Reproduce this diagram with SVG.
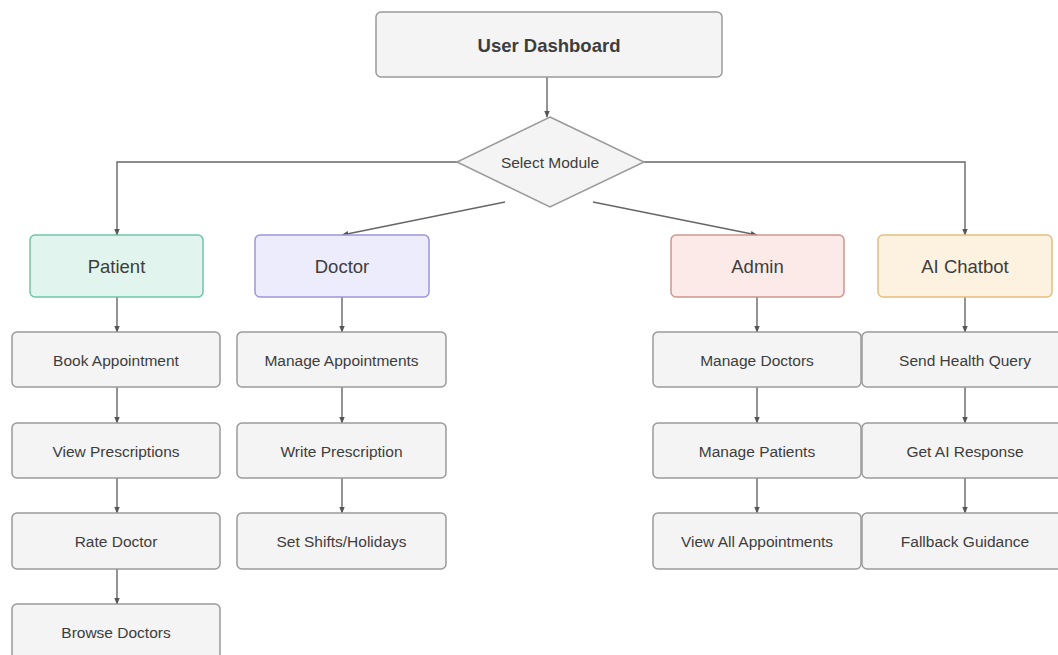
<svg xmlns="http://www.w3.org/2000/svg" width="1058" height="655" viewBox="0 0 1058 655">
<defs>
<marker id="ah" viewBox="0 0 10 10" refX="9" refY="5" markerWidth="7" markerHeight="7" orient="auto" markerUnits="userSpaceOnUse">
<path d="M0,1 L10,5 L0,9 z" fill="#555"/>
</marker>
<style>
text{font-family:"Liberation Sans",Arial,sans-serif;fill:#3d3d3d;text-anchor:middle;dominant-baseline:central}
.box{fill:#f4f4f4;stroke:#9a9a9a;stroke-width:1.5}
.sub{font-size:15.5px}
.mod{font-size:18.5px}
.con{fill:none;stroke:#666;stroke-width:1.4;marker-end:url(#ah)}
</style>
</defs>
<rect width="1058" height="655" fill="#fff"/>
<g id="connectors">
<path class="con" d="M547,77 V117"/>
<path class="con" d="M457,162 H117 V235"/>
<path class="con" d="M644,162 H965 V235"/>
<path class="con" d="M505,202 L342,235"/>
<path class="con" d="M593,202 L757,235"/>
<path class="con" d="M117,297 V332"/>
<path class="con" d="M117,387 V423"/>
<path class="con" d="M117,478 V513"/>
<path class="con" d="M117,569 V604"/>
<path class="con" d="M342,297 V332"/>
<path class="con" d="M342,387 V423"/>
<path class="con" d="M342,478 V513"/>
<path class="con" d="M757,297 V332"/>
<path class="con" d="M757,387 V423"/>
<path class="con" d="M757,478 V513"/>
<path class="con" d="M965,297 V332"/>
<path class="con" d="M965,387 V423"/>
<path class="con" d="M965,478 V513"/>
</g>
<g id="user-dashboard">
<rect class="box" x="376" y="12" width="346" height="65" rx="5"/>
<text x="549" y="45" style="font-size:18.5px;font-weight:bold">User Dashboard</text>
</g>
<g id="select-module">
<polygon points="550,117 644,162 550,207 457,162" class="box"/>
<text x="550" y="162" style="font-size:15.5px">Select Module</text>
</g>
<g id="patient">
<rect x="30" y="235" width="173" height="62" rx="5" fill="#e1f5ee" stroke="#6cc7a6" stroke-width="1.5"/>
<text class="mod" x="116.5" y="266">Patient</text>
</g>
<g id="doctor">
<rect x="255" y="235" width="174" height="62" rx="5" fill="#ececfc" stroke="#9c95dc" stroke-width="1.5"/>
<text class="mod" x="342" y="266">Doctor</text>
</g>
<g id="admin">
<rect x="671" y="235" width="173" height="62" rx="5" fill="#fbeae7" stroke="#cf9690" stroke-width="1.5"/>
<text class="mod" x="757.5" y="266">Admin</text>
</g>
<g id="ai-chatbot">
<rect x="878" y="235" width="174" height="62" rx="5" fill="#fdf1df" stroke="#e6bd80" stroke-width="1.5"/>
<text class="mod" x="965" y="266">AI Chatbot</text>
</g>
<g id="book-appointment"><rect class="box" x="12" y="332" width="208" height="55" rx="5"/><text class="sub" x="116" y="360">Book Appointment</text></g>
<g id="view-prescriptions"><rect class="box" x="12" y="423" width="208" height="55" rx="5"/><text class="sub" x="116" y="451">View Prescriptions</text></g>
<g id="rate-doctor"><rect class="box" x="12" y="513" width="208" height="56" rx="5"/><text class="sub" x="116" y="541.5">Rate Doctor</text></g>
<g id="browse-doctors"><rect class="box" x="12" y="604" width="208" height="56" rx="5"/><text class="sub" x="116" y="632">Browse Doctors</text></g>
<g id="manage-appointments"><rect class="box" x="237" y="332" width="209" height="55" rx="5"/><text class="sub" x="341.5" y="360">Manage Appointments</text></g>
<g id="write-prescription"><rect class="box" x="237" y="423" width="209" height="55" rx="5"/><text class="sub" x="341.5" y="451">Write Prescription</text></g>
<g id="set-shifts"><rect class="box" x="237" y="513" width="209" height="56" rx="5"/><text class="sub" x="341.5" y="541.5">Set Shifts/Holidays</text></g>
<g id="manage-doctors"><rect class="box" x="653" y="332" width="208" height="55" rx="5"/><text class="sub" x="757" y="360">Manage Doctors</text></g>
<g id="manage-patients"><rect class="box" x="653" y="423" width="208" height="55" rx="5"/><text class="sub" x="757" y="451">Manage Patients</text></g>
<g id="view-all-appointments"><rect class="box" x="653" y="513" width="208" height="56" rx="5"/><text class="sub" x="757" y="541.5">View All Appointments</text></g>
<g id="send-health-query"><rect class="box" x="862" y="332" width="206" height="55" rx="5"/><text class="sub" x="965" y="360">Send Health Query</text></g>
<g id="get-ai-response"><rect class="box" x="862" y="423" width="206" height="55" rx="5"/><text class="sub" x="965" y="451">Get AI Response</text></g>
<g id="fallback-guidance"><rect class="box" x="862" y="513" width="206" height="56" rx="5"/><text class="sub" x="965" y="541.5">Fallback Guidance</text></g>
</svg>
